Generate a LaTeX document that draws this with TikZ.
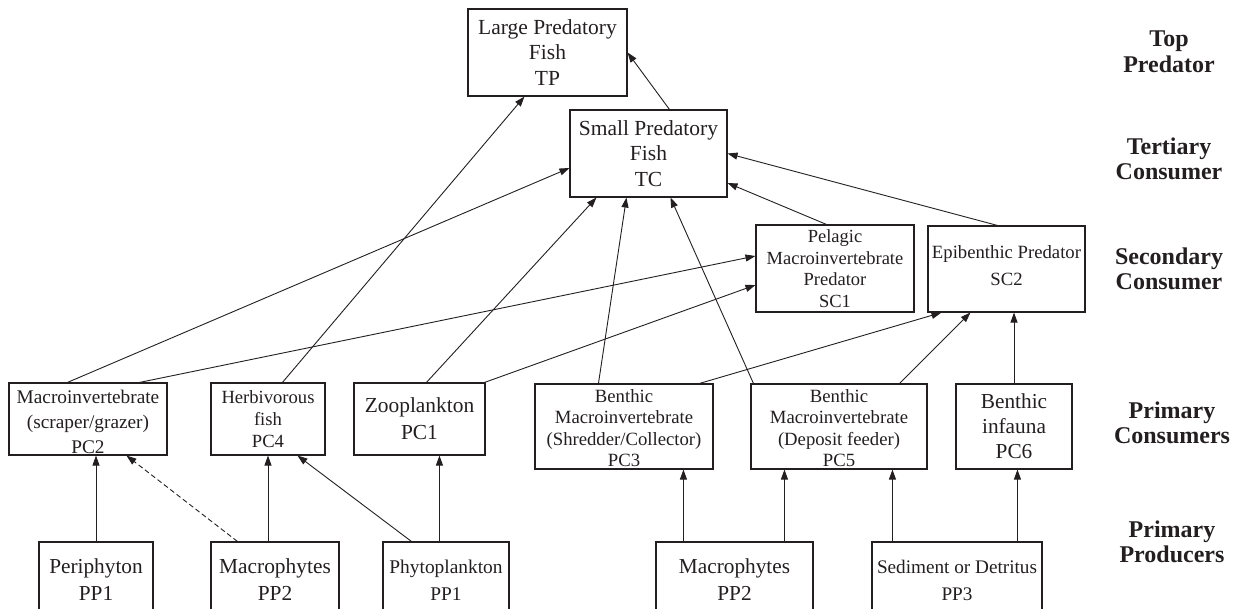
\documentclass[tikz,border=0pt]{standalone}
\usepackage{fontspec}
\setmainfont{Liberation Serif}
\usetikzlibrary{calc,arrows.meta}
\definecolor{ink}{RGB}{35,31,32}
\begin{document}
\begin{tikzpicture}[x=1pt,y=-1pt,
  box/.style={draw=ink,line width=1.1pt,inner sep=0pt,align=center,text=ink},
  txt/.style={align=center,text=ink,inner sep=0pt},
  arr/.style={draw=ink,line width=0.9pt,-{Triangle[length=10pt,width=7pt]}},
  darr/.style={arr,dashed,dash pattern=on 5pt off 3pt},
  lvl/.style={font=\bfseries\fontsize{24}{25.5}\selectfont,align=center,text=ink},
  fA/.style={font=\fontsize{21.5}{25.5}\selectfont},
  fB/.style={font=\fontsize{18.5}{21.5}\selectfont},
  fC/.style={font=\fontsize{18.7}{21.5}\selectfont},
]
\useasboundingbox (0,0) rectangle (1236,609);
\clip (0,0) rectangle (1236,609);
% top levels
\node[box,fA,minimum width=159pt,minimum height=87pt] (tp) at (547.5,52.5) {Large Predatory\\Fish\\TP};
\node[box,fA,minimum width=157pt,minimum height=87pt] (tc) at (648.5,153.5) {Small Predatory\\Fish\\TC};
\node[box,fB,minimum width=158pt,minimum height=87pt] (sc1) at (835,268.5) {Pelagic\\Macroinvertebrate\\Predator\\SC1};
\node[box,minimum width=157pt,minimum height=86pt] (sc2) at (1006.5,269) {};
\node[txt,font=\fontsize{18.7}{27}\selectfont] (sc2t) at (1006.5,266) {Epibenthic Predator\\SC2};
% primary consumers
\node[box,minimum width=158pt,minimum height=72pt] (pc2) at (88,419) {};
\node[txt,font=\fontsize{19.3}{25}\selectfont] (pc2t) at (88,422) {Macroinvertebrate\\(scraper/grazer)\\PC2};
\node[box,font=\fontsize{18.6}{22}\selectfont,minimum width=114pt,minimum height=72pt] (pc4) at (268,419) {Herbivorous\\fish\\PC4};
\node[box,font=\fontsize{21.4}{27}\selectfont,minimum width=131pt,minimum height=72pt] (pc1) at (419.5,419) {Zooplankton\\PC1};
\node[box,minimum width=178pt,minimum height=85pt] (pc3) at (624,426.5) {};
\node[txt,fC] (pc3t) at (624,428) {Benthic\\Macroinvertebrate\\(Shredder/Collector)\\PC3};
\node[box,minimum width=176pt,minimum height=85pt] (pc5) at (839,426.5) {};
\node[txt,fC] (pc5t) at (839,428) {Benthic\\Macroinvertebrate\\(Deposit feeder)\\PC5};
\node[box,font=\fontsize{21.3}{25}\selectfont,minimum width=116pt,minimum height=85pt] (pc6) at (1014,426.5) {Benthic\\infauna\\PC6};
% primary producers
\node[box,font=\fontsize{21.3}{27}\selectfont,minimum width=114pt,minimum height=76pt] (pp1a) at (96,580) {Periphyton\\PP1};
\node[box,font=\fontsize{21.4}{27}\selectfont,minimum width=128pt,minimum height=76pt] (pp2a) at (275,580) {Macrophytes\\PP2};
\node[box,font=\fontsize{19.4}{27}\selectfont,minimum width=126pt,minimum height=76pt] (pp1b) at (446,580) {Phytoplankton\\PP1};
\node[box,font=\fontsize{21.3}{27}\selectfont,minimum width=157pt,minimum height=76pt] (pp2b) at (734.5,580) {Macrophytes\\PP2};
\node[box,font=\fontsize{19.2}{27}\selectfont,minimum width=170pt,minimum height=76pt] (pp3) at (957,580) {Sediment or Detritus\\PP3};
% level labels
\node[lvl] (l1) at (1169,52) {Top\\Predator};
\node[lvl] (l2) at (1169,159) {Tertiary\\Consumer};
\node[lvl] (l3) at (1169,269) {Secondary\\Consumer};
\node[lvl] (l4) at (1172,423) {Primary\\Consumers};
\node[lvl] (l5) at (1172,542) {Primary\\Producers};
% arrows to top
\draw[arr] ($(tc.north west)+(100,0)$) -- (tp.east);
\draw[arr] ($(pc4.north west)+(72,0)$) -- ($(tp.south west)+(57,0)$);
% arrows to TC
\draw[arr] ($(pc2.north west)+(59,0)$) -- ($(tc.west)+(0,14.5)$);
\draw[arr] ($(pc1.north west)+(73,0)$) -- ($(tc.south west)+(27,0)$);
\draw[arr] ($(pc3.north west)+(64,0)$) -- ($(tc.south west)+(57,0)$);
\draw[arr] ($(pc5.north west)+(3,0)$) -- ($(tc.south west)+(101,0)$);
\draw[arr] ($(sc1.north west)+(71,0)$) -- ($(tc.east)+(0,29.5)$);
\draw[arr] ($(sc2.north west)+(70,0)$) -- (tc.east);
% arrows to SC1
\draw[arr] ($(pc2.north west)+(131,0)$) -- ($(sc1.west)+(0,-12.5)$);
\draw[arr] ($(pc1.north east)+(-1,0)$) -- ($(sc1.west)+(0,16.5)$);
% arrows to SC2
\draw[arr] ($(pc3.north west)+(165,0)$) -- ($(sc2.south west)+(14,0)$);
\draw[arr] ($(pc5.north west)+(149,0)$) -- ($(sc2.south west)+(43,0)$);
\draw[arr] (pc6.north) -- (pc6.north |- sc2.south);
% producers to consumers
\draw[arr] (pp1a.north) -- (pp1a.north |- pc2.south);
\draw[darr] ($(pp2a.north west)+(27,0)$) -- ($(pc2.south west)+(118,0)$);
\draw[arr] (pc4.south |- pp2a.north) -- (pc4.south);
\draw[arr] ($(pp1b.north west)+(29,0)$) -- ($(pc4.south west)+(87,0)$);
\draw[arr] ($(pp1b.north west)+(57,0)$) coordinate (a1) -- (a1 |- pc1.south);
\draw[arr] ($(pp2b.north west)+(28,0)$) coordinate (a2) -- (a2 |- pc3.south);
\draw[arr] ($(pp2b.north west)+(129,0)$) coordinate (a3) -- (a3 |- pc5.south);
\draw[arr] ($(pp3.north west)+(21,0)$) coordinate (a4) -- (a4 |- pc5.south);
\draw[arr] ($(pp3.north west)+(146,0)$) coordinate (a5) -- (a5 |- pc6.south);
\end{tikzpicture}
\end{document}
